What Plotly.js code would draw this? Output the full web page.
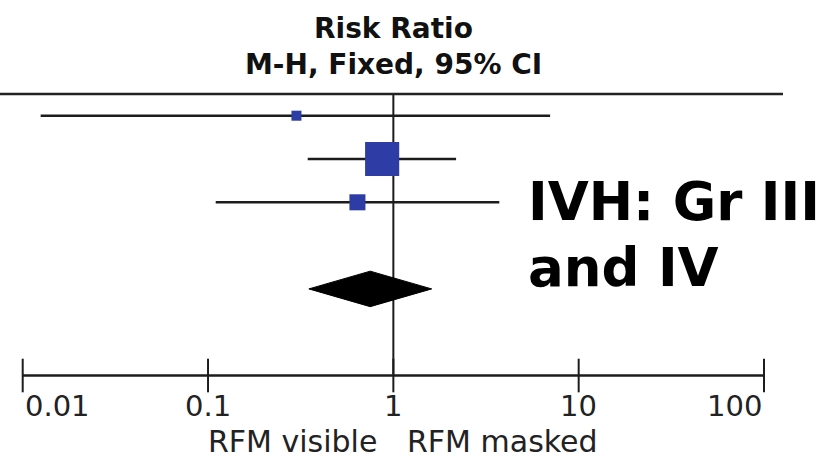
<!DOCTYPE html>
<html>
<head>
<meta charset="utf-8">
<script src="https://cdn.plot.ly/plotly-3.0.1.min.js"></script>
<style>
  html, body { margin: 0; padding: 0; background: #ffffff; }
  #chart { width: 830px; height: 459px; }
</style>
</head>
<body>
<div id="chart"></div>
<script>
// Study rows (top to bottom) and their risk ratios with 95% CI
const studyRows = [1, 2, 3];
const riskRatio = [0.30, 0.87, 0.64];
const ciLower = [0.0125, 0.345, 0.11];
const ciUpper = [7.01, 2.18, 3.73];
const weightPct = [6.6, 76.5, 16.9];

// Pooled estimate (M-H, fixed effect)
const pooledRow = 5;
const pooledRR = 0.75;
const pooledLower = 0.35;
const pooledUpper = 1.61;

// Log axis ticks
const tickVals = [0.01, 0.1, 1, 10, 100];
const tickText = ['0.01', '0.1', '1', '10', '100'];

// Row layout helpers
const headerRow = 0.5;
const axisRow = 7;
const ink = '#1c1c1c';

// CI whiskers as a single broken line
const ciX = [], ciY = [];
studyRows.forEach((r, i) => {
  ciX.push(ciLower[i], ciUpper[i], null);
  ciY.push(r, r, null);
});

// Square side scales with the square root of the study weight
const squareSize = weightPct.map(w => 39 * Math.sqrt(w / 100));

const traces = [
  // line of no effect
  {
    x: [1, 1], y: [headerRow, axisRow],
    mode: 'lines', line: { color: ink, width: 2 },
    hoverinfo: 'skip', showlegend: false
  },
  // confidence intervals
  {
    x: ciX, y: ciY,
    mode: 'lines', line: { color: ink, width: 2.6 },
    hoverinfo: 'skip', showlegend: false
  },
  // point estimates
  {
    x: riskRatio, y: studyRows,
    mode: 'markers', opacity: 1,
    marker: { symbol: 'square', size: squareSize, color: '#2e3da6', opacity: 1, line: { width: 0 } },
    hoverinfo: 'skip', showlegend: false
  },
  // pooled diamond
  {
    x: [pooledLower, pooledRR, pooledUpper, pooledRR, pooledLower],
    y: [pooledRow, pooledRow - 0.41, pooledRow, pooledRow + 0.41, pooledRow],
    mode: 'lines', fill: 'toself', fillcolor: '#000000',
    line: { color: '#000000', width: 1 },
    hoverinfo: 'skip', showlegend: false
  },
  // horizontal scale
  {
    x: [tickVals[0], tickVals[tickVals.length - 1]], y: [axisRow, axisRow],
    mode: 'lines', line: { color: ink, width: 2.6 },
    hoverinfo: 'skip', showlegend: false
  },
  // tick marks crossing the scale
  {
    x: tickVals, y: tickVals.map(() => axisRow),
    mode: 'markers',
    marker: { symbol: 'line-ns', size: 24, line: { color: ink, width: 2 } },
    hoverinfo: 'skip', showlegend: false
  }
];

const tickFont = { family: 'DejaVu Sans', size: 29, color: '#222222' };
const annotations = tickVals.map((v, i) => ({
  x: Math.log10(v), y: 7.70, xref: 'x', yref: 'y',
  text: tickText[i], showarrow: false,
  xanchor: i === 0 ? 'left' : (i === tickVals.length - 1 ? 'right' : 'center'),
  yanchor: 'middle', font: tickFont
}));

const headFont = { family: 'DejaVu Sans', size: 28, color: '#111111', weight: 'bold' };
annotations.push(
  { x: 0, y: -1.025, xref: 'x', yref: 'y', text: 'Risk Ratio', showarrow: false,
    xanchor: 'center', yanchor: 'middle', font: headFont },
  { x: 0, y: -0.19, xref: 'x', yref: 'y', text: 'M-H, Fixed, 95% CI', showarrow: false,
    xanchor: 'center', yanchor: 'middle', font: headFont },
  { x: 0, y: 8.52, xref: 'x', yref: 'y', xshift: -14, text: 'RFM visible', showarrow: false,
    xanchor: 'right', yanchor: 'middle', font: { family: 'DejaVu Sans', size: 30, color: '#222222' } },
  { x: 0, y: 8.52, xref: 'x', yref: 'y', xshift: 12, text: 'RFM masked', showarrow: false,
    xanchor: 'left', yanchor: 'middle', font: { family: 'DejaVu Sans', size: 30, color: '#222222' } }
);

const bigFont = { family: 'DejaVu Sans', size: 53, color: '#000000', weight: 'bold' };
annotations.push(
  { x: 0.6718, y: 2.98, xref: 'paper', yref: 'y', text: 'IVH: Gr III', showarrow: false,
    xanchor: 'left', yanchor: 'middle', font: bigFont },
  { x: 0.6718, y: 4.50, xref: 'paper', yref: 'y', text: 'and IV', showarrow: false,
    xanchor: 'left', yanchor: 'middle', font: bigFont }
);

const layout = {
  width: 830, height: 459,
  margin: { l: 0, r: 47, t: 0, b: 0, pad: 0 },
  paper_bgcolor: '#ffffff', plot_bgcolor: '#ffffff',
  xaxis: {
    type: 'log', range: [-2.1225, 2.1025], visible: false,
    showgrid: false, zeroline: false, fixedrange: true
  },
  yaxis: {
    range: [8.928, -1.672], visible: false,
    showgrid: false, zeroline: false, fixedrange: true
  },
  shapes: [
    // rule under the column heading
    { type: 'line', xref: 'paper', yref: 'y', x0: 0, x1: 1, y0: headerRow, y1: headerRow,
      line: { color: '#222222', width: 2.6 } }
  ],
  annotations: annotations,
  showlegend: false
};

Plotly.newPlot('chart', traces, layout, { staticPlot: true, displayModeBar: false });
</script>
</body>
</html>
